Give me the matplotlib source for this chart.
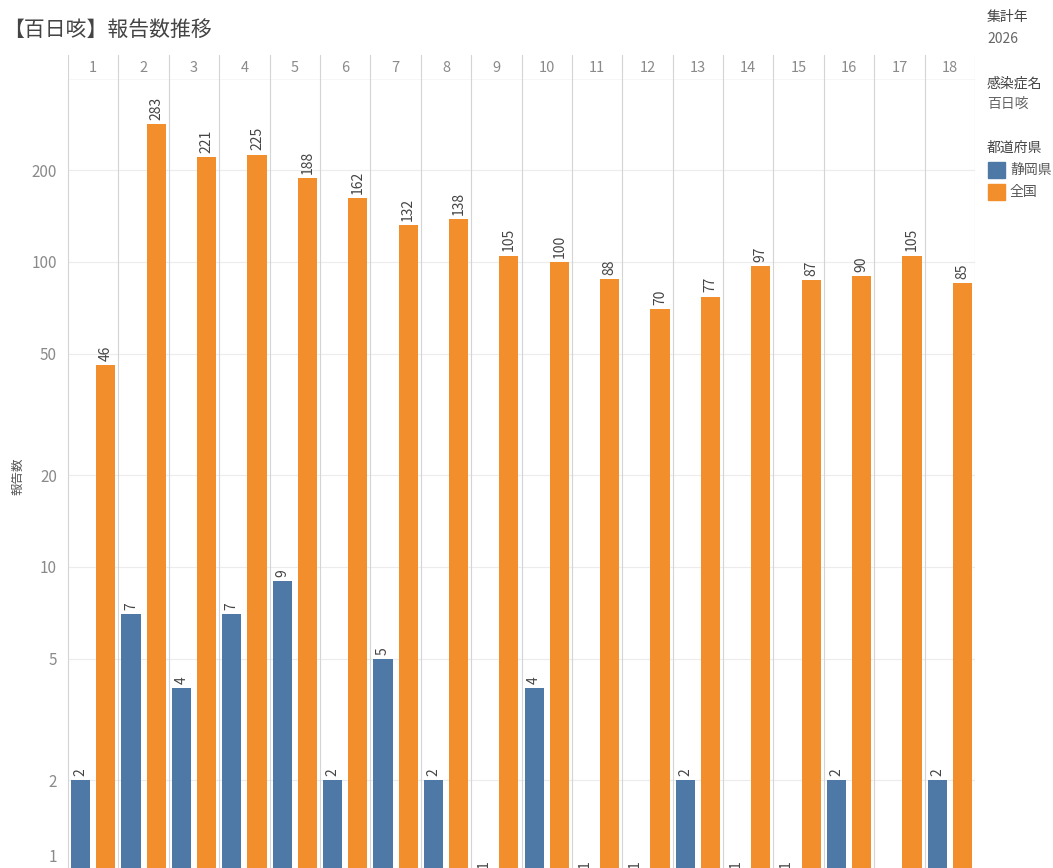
import numpy as np
import matplotlib
matplotlib.use('Agg')
import matplotlib.pyplot as plt
from matplotlib.patches import Rectangle

plt.rcParams['font.family'] = ['Noto Sans CJK JP', 'DejaVu Sans']

# data
weeks = list(range(1, 19))
shizuoka = [2, 7, 4, 7, 9, 2, 5, 2, 1, 4, 1, 1, 2, 1, 1, 2, None, 2]
zenkoku = [46, 283, 221, 225, 188, 162, 132, 138, 105, 100, 88, 70, 77, 97, 87, 90, 105, 85]
yticks = [1, 2, 5, 10, 20, 50, 100, 200]

blue = '#4e79a7'
orange = '#f28e2b'
grid_c = '#d4d4d4'
txt_c = '#8a8a8a'

W, H = 1053, 868
fig = plt.figure(figsize=(W / 100, H / 100), dpi=100)

# main plot area, in pixels: x 68..975, y 80..872 (bottom runs slightly off figure)
ax = fig.add_axes([68 / W, (H - 872) / H, 907 / W, 792 / H])
hx = fig.add_axes([68 / W, (H - 80) / H, 907 / W, 25 / H])

n = len(weeks)
x = np.arange(n)
off = 0.25
bw = 0.38

sv = np.array([np.nan if v is None else v for v in shizuoka], dtype=float)
ax.bar(x - off, sv, width=bw, color=blue, zorder=3)
ax.bar(x + off, zenkoku, width=bw, color=orange, zorder=3)

ax.set_yscale('log')
ax.set_ylim(1, 395)
ax.set_xlim(-0.5, n - 0.5)

for i in range(n):
    if shizuoka[i] is not None:
        ax.annotate(str(shizuoka[i]), (x[i] - off, shizuoka[i]), xytext=(0, 3),
                    textcoords='offset points', rotation=90, ha='center', va='bottom',
                    fontsize=10, color='#444444', annotation_clip=False)
    ax.annotate(str(zenkoku[i]), (x[i] + off, zenkoku[i]), xytext=(0, 3),
                textcoords='offset points', rotation=90, ha='center', va='bottom',
                fontsize=10, color='#444444', annotation_clip=False)

# grid and panel separators
for t in yticks:
    ax.axhline(t, color='#ececec', lw=0.8, zorder=1)
for b in np.arange(0.5, n - 0.5, 1):
    ax.axvline(b, color=grid_c, lw=0.8, zorder=2)
ax.axvline(n - 0.5, color=grid_c, lw=0.8, zorder=2)

for s in ['top', 'right', 'bottom']:
    ax.spines[s].set_visible(False)
ax.spines['left'].set_color(grid_c)
ax.set_xticks([])
ax.set_yticks(yticks)
# "1" sits at the cut edge of the view; it is drawn separately, lifted a little
ax.set_yticklabels([''] + [str(t) for t in yticks[1:]])
ax.yaxis.set_minor_locator(matplotlib.ticker.NullLocator())
ax.tick_params(axis='y', length=0, labelsize=11, labelcolor=txt_c, pad=8)
ax.annotate('1', xy=(0, 1), xycoords=('axes fraction', 'data'), xytext=(-8, 4),
            textcoords='offset points', ha='right', va='bottom', fontsize=11,
            color=txt_c, annotation_clip=False)
ax.set_ylabel('報告数', fontsize=9, color='#555555', labelpad=5)

# header row with week numbers
hx.set_xlim(-0.5, n - 0.5)
hx.set_ylim(0, 1)
hx.set_xticks([])
hx.set_yticks([])
for s in hx.spines.values():
    s.set_visible(False)
hx.axhline(0, color=grid_c, lw=1.0)
for b in np.arange(-0.5, n, 1):
    hx.axvline(b, color=grid_c, lw=0.8)
for i, w in enumerate(weeks):
    hx.text(i, 0.5, str(w), ha='center', va='center', fontsize=10.5, color=txt_c)

# title and side legend
fig.text(3 / W, 1 - 30 / H, '【百日咳】報告数推移', fontsize=15, color='#444444', va='center')
fig.text(987 / W, 1 - 17 / H, '集計年', fontsize=10, color='#444444', va='center')
fig.text(987 / W, 1 - 39 / H, '2026', fontsize=10, color='#666666', va='center')
fig.text(987 / W, 1 - 84 / H, '感染症名', fontsize=10, color='#444444', va='center')
fig.text(987 / W, 1 - 104 / H, '百日咳', fontsize=10, color='#666666', va='center')
fig.text(987 / W, 1 - 148 / H, '都道府県', fontsize=10, color='#444444', va='center')
for j, (lab, c) in enumerate([('静岡県', blue), ('全国', orange)]):
    yc = 170 + j * 22
    fig.patches.append(Rectangle((988 / W, 1 - (yc + 8) / H), 17 / W, 16 / H,
                                 transform=fig.transFigure, color=c, figure=fig))
    fig.text(1010 / W, 1 - yc / H, lab, fontsize=10, color='#555555', va='center')

fig.savefig('out.png', dpi=100)
